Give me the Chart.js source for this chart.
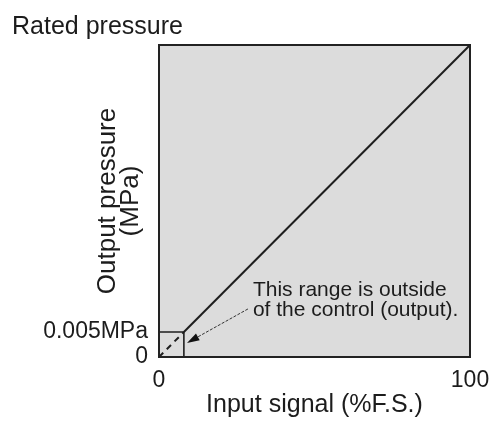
<!DOCTYPE html>
<html>
<head>
<meta charset="utf-8">
<script src="https://cdn.jsdelivr.net/npm/chart.js@4.4.1/dist/chart.umd.min.js"></script>
<style>
  html, body { margin: 0; padding: 0; background: #fff; }
  #wrap { width: 491px; height: 421px; }
</style>
</head>
<body>
<div id="wrap"><canvas id="chartRango"></canvas></div>
<script>
// datos (% de escala)
const lineaX = [0, 8, 100];
const lineaY = [0, 8, 100];
const cajaX = [0, 8, 8];
const cajaY = [8, 8, 0];
const ticksX = [0, 100];
const ticksY = [0, 8];
const etiquetasY = { 0: '0', 8: '0.005MPa' };
const flechaDesde = [28.6, 15.4];
const flechaHasta = [9.0, 4.5];
const notaTexto = ['This range is outside', 'of the control (output).'];
const notaPos = [30.2, 21.5];
const textoNominal = 'Rated pressure';

const fuente = "'Liberation Sans', Arial, sans-serif";
const colorTexto = '#1c1c1c';

const fondoYMarco = {
    id: 'fondoYMarco',
    beforeDatasetsDraw(chart) {
        const { ctx, chartArea: a } = chart;
        ctx.save();
        ctx.fillStyle = '#dcdcdc';
        ctx.fillRect(a.left, a.top, a.right - a.left, a.bottom - a.top);
        ctx.restore();
    },
    afterDraw(chart) {
        const { ctx, chartArea: a, scales } = chart;
        ctx.save();
        ctx.strokeStyle = '#222';
        ctx.lineWidth = 2;
        ctx.strokeRect(a.left, a.top, a.right - a.left, a.bottom - a.top);

        // flecha
        const x0 = scales.x.getPixelForValue(flechaDesde[0]), y0 = scales.y.getPixelForValue(flechaDesde[1]);
        const x1 = scales.x.getPixelForValue(flechaHasta[0]), y1 = scales.y.getPixelForValue(flechaHasta[1]);
        const ang = Math.atan2(y1 - y0, x1 - x0);
        const largo = 13;
        ctx.strokeStyle = '#333';
        ctx.lineWidth = 1;
        ctx.setLineDash([3, 1.5]);
        ctx.beginPath();
        ctx.moveTo(x0, y0);
        ctx.lineTo(x1 - Math.cos(ang) * largo * 0.8, y1 - Math.sin(ang) * largo * 0.8);
        ctx.stroke();
        ctx.setLineDash([]);
        ctx.fillStyle = '#111';
        ctx.beginPath();
        ctx.moveTo(x1, y1);
        ctx.lineTo(x1 - Math.cos(ang - 0.3) * largo, y1 - Math.sin(ang - 0.3) * largo);
        ctx.lineTo(x1 - Math.cos(ang + 0.3) * largo, y1 - Math.sin(ang + 0.3) * largo);
        ctx.closePath();
        ctx.fill();

        // nota
        ctx.fillStyle = colorTexto;
        ctx.font = '21px ' + fuente;
        ctx.textAlign = 'left';
        ctx.textBaseline = 'middle';
        const nx = scales.x.getPixelForValue(notaPos[0]);
        const ny = scales.y.getPixelForValue(notaPos[1]);
        notaTexto.forEach((t, i) => ctx.fillText(t, nx, ny + i * 20));

        // presion nominal
        ctx.font = '25px ' + fuente;
        ctx.fillText(textoNominal, 12, a.top - 18);
        ctx.restore();
    }
};

const ctx = document.getElementById('chartRango').getContext('2d');
const chart = new Chart(ctx, {
    type: 'scatter',
    data: {
        datasets: [{
            data: lineaX.map((x, i) => ({ x: x, y: lineaY[i] })),
            showLine: true,
            borderColor: '#1e1e1e',
            borderWidth: 2,
            pointRadius: 0,
            segment: { borderDash: c => c.p0DataIndex === 0 ? [6, 5] : undefined }
        }, {
            data: cajaX.map((x, i) => ({ x: x, y: cajaY[i] })),
            showLine: true,
            borderColor: '#1e1e1e',
            borderWidth: 1.6,
            pointRadius: 0
        }]
    },
    options: {
        responsive: true,
        maintainAspectRatio: false,
        animation: false,
        layout: { padding: { top: 45, right: 21, left: 0, bottom: 0 } },
        plugins: { legend: { display: false }, tooltip: { enabled: false } },
        scales: {
            x: {
                type: 'linear', min: 0, max: 100,
                afterBuildTicks: s => { s.ticks = ticksX.map(v => ({ value: v })); },
                afterFit: s => { s.height = 64; s.paddingLeft = 0; s.paddingRight = 0; },
                grid: { display: false, drawTicks: false },
                border: { display: false },
                ticks: { color: colorTexto, font: { family: fuente, size: 23 }, padding: 10, maxRotation: 0 },
                title: { display: true, text: 'Input signal (%F.S.)', color: colorTexto,
                         font: { family: fuente, size: 25 }, padding: { top: 0, bottom: 1 } }
            },
            y: {
                type: 'linear', min: 0, max: 100,
                afterBuildTicks: s => { s.ticks = ticksY.map(v => ({ value: v })); },
                afterFit: s => { s.width = 159; s.paddingTop = 0; s.paddingBottom = 0; },
                grid: { display: false, drawTicks: false },
                border: { display: false },
                ticks: { color: colorTexto, font: { family: fuente, size: 23 }, padding: 11,
                         callback: v => etiquetasY[v] },
                title: { display: true, text: ['Output pressure', '(MPa)'], color: colorTexto,
                         font: { family: fuente, size: 26, lineHeight: 0.9 }, padding: { top: 96, bottom: 0 } }
            }
        }
    },
    plugins: [fondoYMarco]
});
</script>
</body>
</html>
